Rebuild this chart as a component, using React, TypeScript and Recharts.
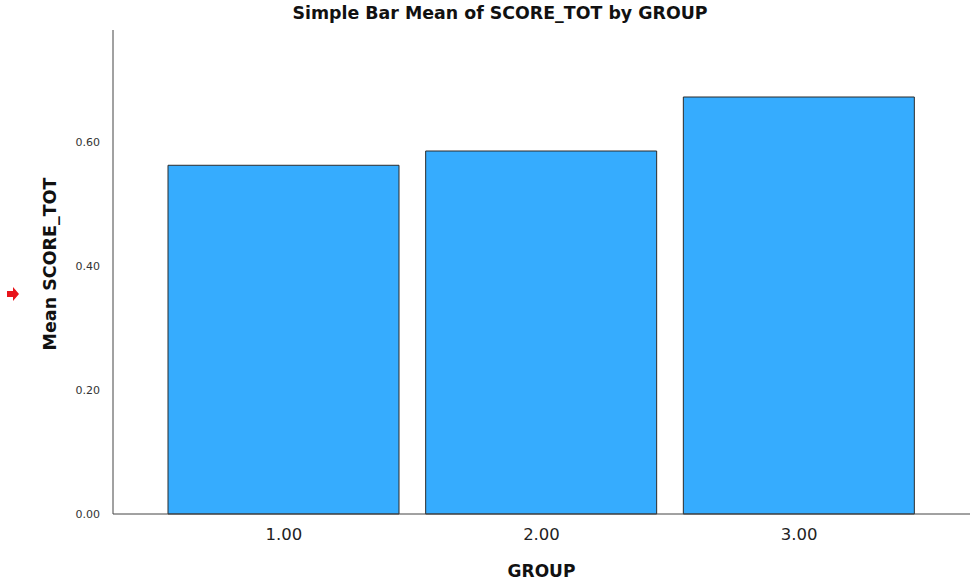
import { BarChart, Bar, XAxis, YAxis } from "recharts";

const groups = ["1.00", "2.00", "3.00"];
const meanScores = [0.562, 0.585, 0.672];
const yTicks = [0, 0.2, 0.4, 0.6];

const data = groups.map((g, i) => ({ group: g, score: meanScores[i] }));

const FONT = "'DejaVu Sans', sans-serif";

// rotated y-axis title, placed where SPSS puts it
const YTitle = () => (
  <text
    x={50}
    y={264}
    transform="rotate(-90 50 264)"
    textAnchor="middle"
    dominantBaseline="central"
    fill="#111"
    fontSize={17.5}
    fontWeight="bold"
    fontFamily={FONT}
  >
    Mean SCORE_TOT
  </text>
);

export default function App() {
  return (
    <div
      style={{
        position: "absolute",
        left: 0,
        top: 0,
        width: 971,
        height: 583,
        background: "#fff",
        fontFamily: FONT,
      }}
    >
      {/* title */}
      <div
        style={{
          position: "absolute",
          left: 0,
          width: 1000,
          top: 3,
          textAlign: "center",
          fontSize: 17.4,
          fontWeight: "bold",
          color: "#111",
        }}
      >
        Simple Bar Mean of SCORE_TOT by GROUP
      </div>
      {/* red marker arrow */}
      <svg
        style={{ position: "absolute", left: 6, top: 287 }}
        width={14}
        height={14}
      >
        <polygon points="1,4 7,4 7,0 13,7 7,14 7,10 1,10" fill="#e8141b" />
      </svg>
      <BarChart
        width={971}
        height={583}
        data={data}
        margin={{ top: 30, right: 1, bottom: 0, left: 0 }}
      >
        <XAxis
          dataKey="group"
          height={69}
          padding={{ left: 42, right: 42 }}
          tickLine={false}
          tickMargin={8}
          axisLine={{ stroke: "#444" }}
          tick={{ fill: "#222", fontSize: 16.5, fontFamily: FONT }}
          label={{
            value: "GROUP",
            position: "insideBottom",
            offset: 6,
            style: {
              fill: "#111",
              fontSize: 17,
              fontWeight: "bold",
              fontFamily: FONT,
            },
          }}
        />
        <YAxis
          width={113}
          domain={[0, 0.78]}
          ticks={yTicks}
          tickFormatter={(v: number) => v.toFixed(2)}
          tickLine={false}
          tickMargin={7}
          axisLine={{ stroke: "#444" }}
          tick={{ fill: "#333", fontSize: 11, fontFamily: FONT }}
          label={<YTitle />}
        />
        <Bar
          dataKey="score"
          barSize={231}
          fill="#36acfe"
          stroke="#2b2b2b"
          strokeWidth={1}
          isAnimationActive={false}
        />
      </BarChart>
    </div>
  );
}
